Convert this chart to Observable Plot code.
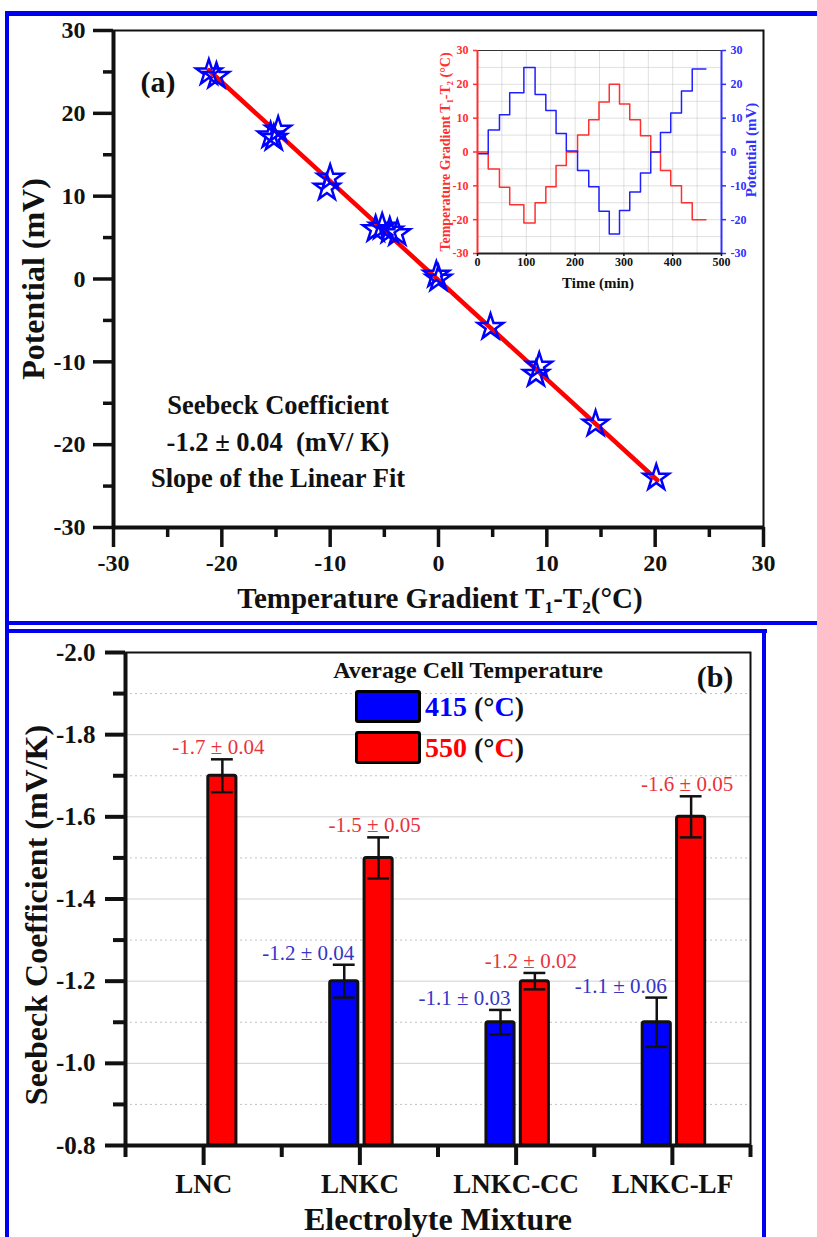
<!DOCTYPE html>
<html><head><meta charset="utf-8">
<script src="https://cdn.jsdelivr.net/npm/d3@7"></script>
<script src="https://cdn.jsdelivr.net/npm/@observablehq/plot@0.6"></script>
<style>
body{margin:0;background:#fff;}
#wrap{position:relative;width:817px;height:1237px;overflow:hidden;font-family:"Liberation Serif","Times New Roman","DejaVu Serif",serif;font-weight:bold;color:#111;}
#wrap svg{position:absolute;}
.t{position:absolute;white-space:pre;line-height:1;transform:translate(-50%,-50%);}
.r{transform:translate(-50%,-50%) rotate(-90deg);}
.bl{position:absolute;background:#0000f0;}
.sw{position:absolute;border:3px solid #000;border-radius:3px;box-sizing:border-box;}
sub{font-size:0.6em;vertical-align:-0.3em;line-height:0;}
</style></head><body><div id="wrap"></div>
<script>
// ---------- data: panel (a) ----------
const gradT     = [-21.2,-20.5,-15.5,-14.8,-15.2,-10.3,-10.0,-5.8,-5.2,-4.5,-3.8,0.0,-0.2,4.8,9.3,9.0,14.5,20.1];
const potential = [24.9,24.5,17.3,18.0,17.0,11.0,12.2,6.0,6.3,5.8,5.5,0.0,0.5,-5.8,-10.5,-11.5,-17.5,-24.0];
const fitT = [-21.2, 20.2];
const fitV = [25.2, -24.3];
const tickA = [-30,-20,-10,0,10,20,30];
const minorA = [-25,-15,-5,5,15,25];
// inset (time series, step starts + end time)
const stepTime = [0,22,45,66,95,118,140,161,182,205,228,249,270,291,312,334,355,375,396,418,440,468];
const stepTemp = [0,-5,-10.4,-15.6,-21,-15,-10.3,-4,0,5,9.5,14.8,20,14.2,9.5,4.8,0,-5.5,-10,-15,-20];
const stepPot  = [-0.5,6.5,11,17.5,25,17,12.3,5.5,0.3,-5.5,-10.3,-17.5,-24.2,-17.3,-11.8,-6.2,0,5.8,11.5,18,24.5];
const insetTickX = [0,100,200,300,400,500];
const insetTickY = [-30,-20,-10,0,10,20,30];
// ---------- data: panel (b) ----------
const mixtures = ["LNC","LNKC","LNKC-CC","LNKC-LF"];
const coef415 = [null,-1.2,-1.1,-1.1];
const err415  = [null,0.04,0.03,0.06];
const coef550 = [-1.7,-1.5,-1.2,-1.6];
const err550  = [0.04,0.05,0.02,0.05];
const tickB = [-2.0,-1.8,-1.6,-1.4,-1.2,-1.0,-0.8];
const minorB = [-1.9,-1.7,-1.5,-1.3,-1.1,-0.9];

const FONT = "'Liberation Serif','Times New Roman','DejaVu Serif',serif";
const BLUE = "#0000ff", RED = "#ff0000";
const wrap = document.getElementById("wrap");

// ---------- panel (a) ----------
const pts = gradT.map((t,i)=>({t, v: potential[i]}));
const fit = fitT.map((t,i)=>({t, v: fitV[i]}));
const plotA = Plot.plot({
  width: 817, height: 625, marginLeft: 113, marginRight: 54, marginTop: 30, marginBottom: 98,
  x: {domain: [-30,30]}, y: {domain: [-30,30]},
  style: {fontFamily: FONT, fontWeight: "bold", fontSize: "23px", background: "transparent", color: "#111"},
  marks: [
    Plot.line(fit, {x: "t", y: "v", stroke: RED, strokeWidth: 4.5}),
    Plot.dot(pts, {x: "t", y: "v", symbol: "star", r: 8, stroke: BLUE, strokeWidth: 2.5, fill: "none"}),
    Plot.frame({stroke: "#111", strokeWidth: 2}),
    Plot.ruleX([-30], {stroke: "#111", strokeWidth: 4}),
    Plot.ruleY([-30], {stroke: "#111", strokeWidth: 4}),
    Plot.axisY({ticks: tickA, tickSize: 20, strokeWidth: 3.5, tickPadding: 8, tickFormat: d => String(d), fontSize: 24, fontWeight: "bold", label: null}),
    Plot.axisY({ticks: minorA, tickSize: 10, strokeWidth: 3.5, tickFormat: () => "", label: null}),
    Plot.axisX({ticks: tickA, tickSize: 20, strokeWidth: 3.5, tickPadding: 6, tickFormat: d => String(d), fontSize: 24, fontWeight: "bold", label: null}),
    Plot.axisX({ticks: minorA, tickSize: 10, strokeWidth: 3.5, tickFormat: () => "", label: null})
  ]
});
plotA.style.left = "0px"; plotA.style.top = "0px";
wrap.appendChild(plotA);

// ---------- inset ----------
function steps(vals){ const a = vals.map((v,i)=>({t: stepTime[i], v})); a.push({t: stepTime[stepTime.length-1], v: vals[vals.length-1]}); return a; }
const inset = Plot.plot({
  width: 340, height: 260, marginLeft: 57, marginRight: 39, marginTop: 15, marginBottom: 42,
  x: {domain: [0,500]}, y: {domain: [-30,30]},
  style: {fontFamily: FONT, fontWeight: "bold", fontSize: "12px", background: "transparent"},
  marks: [
    Plot.gridX({ticks: d3.range(0,501,50), stroke: "#bbb", strokeOpacity: 0.45}),
    Plot.gridY({ticks: d3.range(-30,31,5), stroke: "#bbb", strokeOpacity: 0.45}),
    Plot.line(steps(stepTemp), {x: "t", y: "v", curve: "step-after", stroke: "#ff3030", strokeWidth: 1.5}),
    Plot.line(steps(stepPot), {x: "t", y: "v", curve: "step-after", stroke: "#2020ff", strokeWidth: 1.5}),
    Plot.ruleY([30], {stroke: "#333", strokeWidth: 1}),
    Plot.ruleY([-30], {stroke: "#222", strokeWidth: 2}),
    Plot.ruleX([0], {stroke: "#ff3030", strokeWidth: 2}),
    Plot.ruleX([500], {stroke: "#3030ff", strokeWidth: 2}),
    Plot.axisY({anchor: "left", ticks: insetTickY, tickSize: 4, strokeWidth: 1.5, stroke: "#ff3030", fill: "#ff3030", tickFormat: d => String(d), label: null}),
    Plot.axisY({anchor: "right", ticks: insetTickY, tickSize: 4, strokeWidth: 1.5, stroke: "#3030ff", fill: "#3030ff", tickFormat: d => String(d), label: null}),
    Plot.axisX({ticks: insetTickX, tickSize: 3, tickPadding: 1, strokeWidth: 1.5, tickFormat: d => String(d), label: null})
  ]
});
inset.style.left = "420px"; inset.style.top = "35px";
wrap.appendChild(inset);

// ---------- panel (b) ----------
const rows = [];
mixtures.forEach((m,i)=>{
  if (coef415[i] != null) rows.push({i, m, t: "415", v: coef415[i], e: err415[i], c: i - 0.10});
  if (coef550[i] != null) rows.push({i, m, t: "550", v: coef550[i], e: err550[i], c: i + 0.12});
});
const r415 = rows.filter(d => d.t === "415"), r550 = rows.filter(d => d.t === "550");
const HALF = 0.09, CAP = 0.07;
const labelText = d => `${d.v.toFixed(1)} \u00b1 ${d.e.toFixed(2)}`;
const plotB = Plot.plot({
  width: 817, height: 612, marginLeft: 125, marginRight: 67, marginTop: 27, marginBottom: 92,
  x: {domain: [-0.5, 3.5]}, y: {domain: [-0.8, -2.0]},
  style: {fontFamily: FONT, fontWeight: "bold", fontSize: "24px", background: "transparent", color: "#111"},
  marks: [
    Plot.gridY({ticks: tickB.slice(1,-1), stroke: "#999", strokeOpacity: 0.45, strokeWidth: 1}),
    Plot.gridY({ticks: minorB, stroke: "#999", strokeOpacity: 0.6, strokeDasharray: "2,3"}),
    Plot.rect(r415, {x1: d => d.c - HALF, x2: d => d.c + HALF, y1: () => -0.8, y2: "v", fill: BLUE, stroke: "#111", strokeWidth: 3, rx: 2}),
    Plot.rect(r550, {x1: d => d.c - HALF, x2: d => d.c + HALF, y1: () => -0.8, y2: "v", fill: RED, stroke: "#111", strokeWidth: 3, rx: 2}),
    Plot.ruleX(rows, {x: "c", y1: d => d.v - d.e, y2: d => d.v + d.e, stroke: "#111", strokeWidth: 2.5}),
    Plot.ruleY(rows, {y: d => d.v - d.e, x1: d => d.c - CAP, x2: d => d.c + CAP, stroke: "#111", strokeWidth: 2.5}),
    Plot.ruleY(rows, {y: d => d.v + d.e, x1: d => d.c - CAP, x2: d => d.c + CAP, stroke: "#111", strokeWidth: 2.5}),
    Plot.text(r415, {x: "c", y: d => d.v - d.e, text: labelText, fill: "#3535c8", dx: -36, dy: -5, lineAnchor: "bottom", fontSize: 21, fontWeight: "normal"}),
    Plot.text(r550, {x: "c", y: d => d.v - d.e, text: labelText, fill: "#e8333a", dx: -4, dy: -5, lineAnchor: "bottom", fontSize: 21, fontWeight: "normal"}),
    Plot.frame({stroke: "#111", strokeWidth: 2}),
    Plot.ruleX([-0.5], {stroke: "#111", strokeWidth: 4}),
    Plot.ruleY([-0.8], {stroke: "#111", strokeWidth: 4}),
    Plot.axisY({ticks: tickB, tickSize: 20, strokeWidth: 4, tickPadding: 10, tickFormat: d => d.toFixed(1), fontSize: 25, fontWeight: "bold", label: null}),
    Plot.axisY({ticks: minorB, tickSize: 12, strokeWidth: 4, tickFormat: () => "", label: null}),
    Plot.axisX({ticks: [0,1,2,3], tickSize: 20, strokeWidth: 4, tickPadding: 8, tickFormat: i => mixtures[i], fontSize: 27, fontWeight: "bold", label: null}),
    Plot.axisX({ticks: [-0.5,0.5,1.5,2.5,3.5], tickSize: 12, strokeWidth: 4, tickFormat: () => "", label: null})
  ]
});
plotB.style.left = "0px"; plotB.style.top = "625px";
wrap.appendChild(plotB);

// ---------- text overlays & frames ----------
function txt(html, x, y, size, opts = {}){
  const d = document.createElement("div");
  d.className = "t" + (opts.rot ? " r" : "");
  d.style.left = x + "px"; d.style.top = y + "px"; d.style.fontSize = size + "px";
  if (opts.color) d.style.color = opts.color;
  if (opts.left) { d.style.transform = "translate(0,-50%)"; }
  d.innerHTML = html; wrap.appendChild(d);
}
txt("(a)", 158, 82, 30);
txt("Seebeck Coefficient", 278, 405, 26.5);
txt("-1.2 \u00b1 0.04  (mV/ K)", 278, 442, 26.5);
txt("Slope of the Linear Fit", 278, 478, 26.5);
txt("Potential (mV)", 33, 279, 32, {rot: true});
txt("Temperature Gradient T<sub>1</sub>-T<sub>2</sub>(\u00b0C)", 440, 598, 29);
txt("Temperature Gradient T<sub>1</sub>-T<sub>2</sub> (\u00b0C)", 446, 152, 14, {rot: true, color: "#ff3030"});
txt("Potential (mV)", 751, 150, 15, {rot: true, color: "#3030ff"});
txt("Time (min)", 598, 283, 15);

txt("Seebeck Coefficient (mV/K)", 36, 915, 32, {rot: true});
txt("Electrolyte Mixture", 438, 1219, 32);
txt("Average Cell Temperature", 468, 670, 24);
txt("(b)", 715, 677, 30);
txt(`<span style="color:${BLUE}">415</span> (\u00b0<span style="color:${BLUE}">C</span>)`, 425, 707, 28, {left: true});
txt(`<span style="color:${RED}">550</span> (\u00b0<span style="color:${RED}">C</span>)`, 425, 748, 28, {left: true});
function box(x,y,w,h,cls,bg){ const d=document.createElement("div"); d.className=cls; Object.assign(d.style,{left:x+"px",top:y+"px",width:w+"px",height:h+"px"}); if(bg) d.style.background=bg; wrap.appendChild(d); }
box(355, 690, 66, 33, "sw", BLUE);
box(355, 731, 66, 33, "sw", RED);
// blue panel borders
box(5, 11, 812, 5, "bl");
box(5, 11, 4, 1226, "bl");
box(5, 621, 812, 4, "bl");
box(5, 629, 762, 4, "bl");
box(762, 629, 4, 608, "bl");
</script></body></html>
